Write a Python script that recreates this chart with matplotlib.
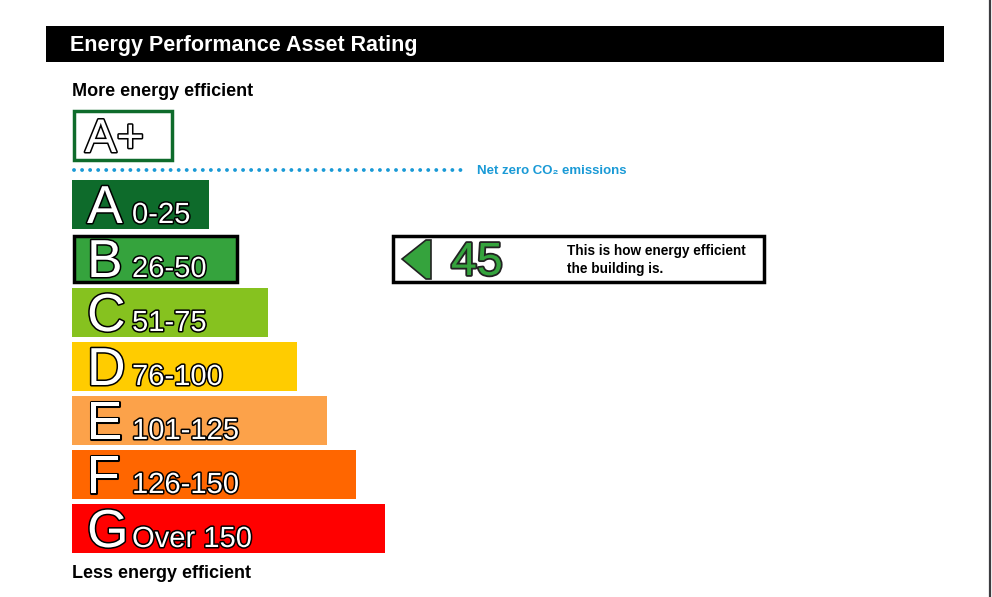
import matplotlib.pyplot as plt
from matplotlib.patches import Rectangle, Polygon
import matplotlib.patheffects as pe

plt.rcParams['font.family'] = ['Liberation Sans', 'DejaVu Sans']

# datos de las bandas
letras = ['A', 'B', 'C', 'D', 'E', 'F', 'G']
rangos = ['0-25', '26-50', '51-75', '76-100', '101-125', '126-150', 'Over 150']
anchos = [137, 166, 196, 225, 255, 284, 313]
colores = ['#0e6b2b', '#35a33d', '#86c21f', '#ffcc00', '#fca24a', '#ff6600', '#ff0000']
valor = 45
banda_actual = 'B'

fig = plt.figure(figsize=(9.92, 5.97), dpi=100)
ax = fig.add_axes([0, 0, 1, 1])
ax.set_xlim(0, 992)
ax.set_ylim(597, 0)
ax.axis('off')

contorno = [pe.withStroke(linewidth=2.2, foreground='black')]

# cabecera
ax.add_patch(Rectangle((46, 26), 898, 36, facecolor='black', lw=0))
ax.text(70, 46, 'Energy Performance Asset Rating', color='white', fontsize=15.5,
        fontweight='bold', va='center')

ax.text(72, 92, 'More energy efficient', fontsize=13, fontweight='bold', va='center')

# caja A+
ax.add_patch(Rectangle((73.5, 110.5), 98, 49, facecolor='white', edgecolor='#0e6b2b', lw=2.5))
ax.text(85, 152, 'A+', fontsize=34, color='white', path_effects=contorno, va='baseline')

# linea punteada net zero
ax.plot([74, 467], [170, 170], color='#1a9ad6', lw=2.8, ls=(0, (0.01, 2.06)),
        dash_capstyle='round')
ax.text(477, 171.5, 'Net zero CO₂ emissions', color='#1a9ad6', fontsize=9.5,
        fontweight='bold', va='center')

# bandas
for i, (l, r, w, c) in enumerate(zip(letras, rangos, anchos, colores)):
    y0 = 180 + 54 * i
    if l == banda_actual:
        ax.add_patch(Rectangle((73.5, y0 + 1.5), w - 3, 46, facecolor=c,
                               edgecolor='black', lw=2.5))
    else:
        ax.add_patch(Rectangle((72, y0), w, 49, facecolor=c, lw=0))
    ax.text(87, y0 + 43, l, fontsize=38.5, color='white', path_effects=contorno,
            va='baseline')
    ax.text(132, y0 + 43, r, fontsize=21, color='white', path_effects=contorno,
            va='baseline')

ax.text(72, 574, 'Less energy efficient', fontsize=13, fontweight='bold', va='center')

# indicador
ax.add_patch(Rectangle((392.5, 235.5), 371, 46, facecolor='white', edgecolor='black', lw=2.5))
ax.add_patch(Polygon([(402, 259), (426, 240), (431, 240), (431, 279), (426, 279)],
                     closed=True, facecolor='#35a33d', edgecolor='#222222', lw=1.2))
ax.text(451, 275, str(valor), fontsize=33.5, color='#35a33d',
        path_effects=[pe.withStroke(linewidth=2.6, foreground='#222222')], va='baseline')
ax.text(567, 260, 'This is how energy efficient\nthe building is.', fontsize=9.8,
        fontweight='bold', va='center', linespacing=1.45)

# borde derecho
ax.plot([990, 990], [0, 597], color='#3c3c40', lw=1.6)

fig.savefig('out.png', dpi=100)
